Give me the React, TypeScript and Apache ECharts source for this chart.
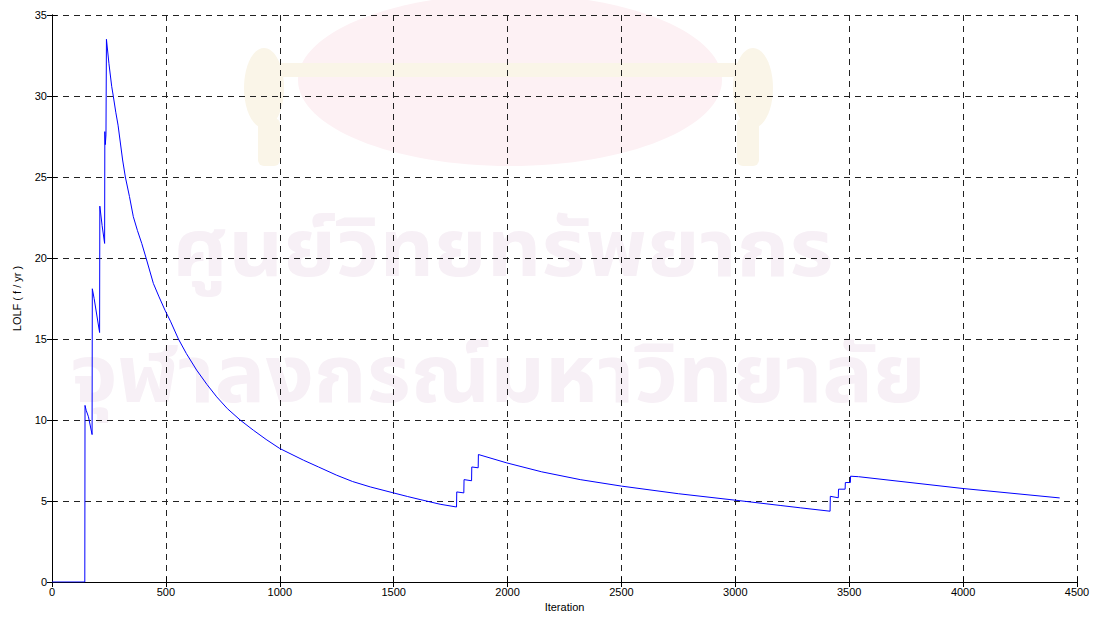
import React, { useEffect, useRef } from "react";
import * as echarts from "echarts";

// LOLF convergence trace against Monte Carlo iteration count
const iterations = [
  0, 144, 145, 150, 160, 176, 177, 185, 209, 210, 220, 231, 232, 234, 237, 239,
  250, 262, 269, 280, 290, 310, 322, 340, 357, 375, 394, 413, 445, 470, 496, 520,
  555, 590, 635, 680, 723, 770, 826, 884, 940, 1000, 1104, 1170, 1250, 1320,
  1397, 1499, 1560, 1616, 1704, 1776, 1777, 1808, 1809, 1842, 1843, 1871, 1872,
  1997, 2150, 2319, 2500, 2750, 3000, 3200, 3285, 3416, 3417, 3452, 3453, 3482,
  3483, 3505, 3506, 3541, 4000, 4424,
];
const lolf = [
  0, 0, 10.9, 10.6, 10.2, 9.1, 18.1, 17.5, 15.4, 23.2, 22.0, 20.9, 27.8, 27.0,
  27.6, 33.5, 32.0, 30.6, 30.0, 29.0, 28.2, 26.05, 25.0, 23.8, 22.55, 21.7,
  20.9, 20.0, 18.43, 17.6, 16.78, 16.1, 15.0, 14.1, 13.08, 12.2, 11.43, 10.7,
  10.0, 9.37, 8.8, 8.24, 7.52, 7.1, 6.59, 6.2, 5.87, 5.5, 5.28, 5.09, 4.8, 4.63,
  5.56, 5.5, 6.32, 6.25, 7.1, 7.05, 7.87, 7.35, 6.8, 6.32, 5.92, 5.45, 5.05,
  4.72, 4.58, 4.37, 5.29, 5.2, 5.73, 5.73, 6.14, 6.14, 6.53, 6.5, 5.77, 5.19,
];

const xTicks = { min: 0, max: 4500, interval: 500 };
const yTicks = { min: 0, max: 35, interval: 5 };

const FONT = "'Liberation Sans', Arial, Helvetica, sans-serif";
const THAI_FONT = "bold 80px 'Noto Sans Thai', 'Noto Sans', 'DejaVu Sans', sans-serif";

export default function App() {
  const ref = useRef<HTMLDivElement>(null);

  useEffect(() => {
    if (!ref.current) return;
    const chart = echarts.init(ref.current, null, { renderer: "svg" });
    const points = iterations.map((it, i) => [it, lolf[i]]);

    const gridLine = {
      show: true,
      lineStyle: { color: "#222", width: 1, type: [6, 5] as number[] },
    };
    const frame = { show: true, lineStyle: { color: "#000", width: 1 } };
    const tick = { show: true, inside: true, length: 5, lineStyle: { color: "#000" } };
    const plain = (v: number) => String(v);

    chart.setOption({
      animation: false,
      backgroundColor: "#fff",
      textStyle: { fontFamily: FONT },
      grid: {
        left: 52,
        right: 23,
        top: 15,
        bottom: 36,
        outerBoundsMode: "none",
      },
      graphic: [
        // faint emblem behind the plot
        {
          type: "ellipse",
          z: -10,
          shape: { cx: 510, cy: 80, rx: 212, ry: 86 },
          style: { fill: "#fdf1f4" },
          silent: true,
        },
        {
          type: "rect",
          z: -9,
          shape: { x: 255, y: 63, width: 505, height: 14 },
          style: { fill: "#faf5e8" },
          silent: true,
        },
        {
          type: "ellipse",
          z: -9,
          shape: { cx: 264, cy: 88, rx: 20, ry: 40 },
          style: { fill: "#faf5e8" },
          silent: true,
        },
        {
          type: "ellipse",
          z: -9,
          shape: { cx: 753, cy: 88, rx: 20, ry: 40 },
          style: { fill: "#faf5e8" },
          silent: true,
        },
        {
          type: "rect",
          z: -9,
          shape: { x: 258, y: 118, width: 22, height: 48, r: 6 },
          style: { fill: "#faf5e8" },
          silent: true,
        },
        {
          type: "rect",
          z: -9,
          shape: { x: 737, y: 118, width: 22, height: 48, r: 6 },
          style: { fill: "#faf5e8" },
          silent: true,
        },
        {
          type: "text",
          z: -8,
          x: 503,
          y: 252,
          scaleX: 1.06,
          silent: true,
          style: {
            text: "ศูนย์วิทยทรัพยากร",
            fill: "#f7f0f6",
            font: THAI_FONT,
            align: "center",
            verticalAlign: "middle",
          },
        },
        {
          type: "text",
          z: -8,
          x: 498,
          y: 378,
          scaleX: 1.06,
          silent: true,
          style: {
            text: "จุฬาลงกรณ์มหาวิทยาลัย",
            fill: "#f7f0f6",
            font: THAI_FONT,
            align: "center",
            verticalAlign: "middle",
          },
        },
      ],
      xAxis: [
        {
          type: "value",
          ...xTicks,
          position: "bottom",
          name: "Iteration",
          nameLocation: "middle",
          nameGap: 19,
          nameTextStyle: { color: "#000", fontSize: 11, fontFamily: FONT },
          axisLine: frame,
          axisTick: tick,
          axisLabel: { color: "#000", fontSize: 11, margin: 4, fontFamily: FONT, formatter: plain },
          splitLine: gridLine,
        },
        {
          type: "value",
          ...xTicks,
          position: "top",
          axisLine: frame,
          axisTick: tick,
          axisLabel: { show: false },
          splitLine: { show: false },
        },
      ],
      yAxis: [
        {
          type: "value",
          ...yTicks,
          position: "left",
          name: "LOLF ( f / yr )",
          nameLocation: "middle",
          nameGap: 30,
          nameTextStyle: { color: "#000", fontSize: 11, fontFamily: FONT },
          axisLine: frame,
          axisTick: tick,
          axisLabel: { color: "#000", fontSize: 11, margin: 5, fontFamily: FONT, formatter: plain },
          splitLine: gridLine,
        },
        {
          type: "value",
          ...yTicks,
          position: "right",
          axisLine: frame,
          axisTick: tick,
          axisLabel: { show: false },
          splitLine: { show: false },
        },
      ],
      series: [
        {
          type: "line",
          data: points,
          showSymbol: false,
          smooth: false,
          lineStyle: { color: "#0000ff", width: 1 },
          z: 5,
        },
      ],
    });

    return () => chart.dispose();
  }, []);

  return (
    <div
      ref={ref}
      style={{ position: "fixed", left: 0, top: 0, width: 1100, height: 618 }}
    />
  );
}
